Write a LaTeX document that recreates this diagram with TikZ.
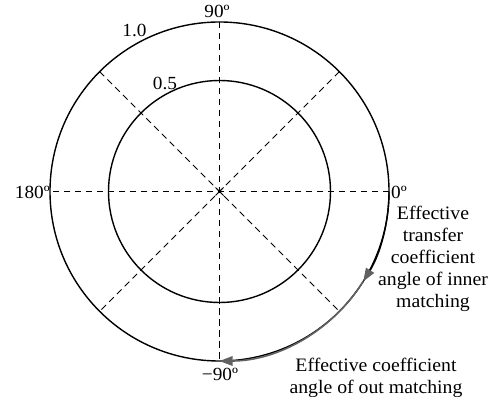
\documentclass[tikz,border=0pt]{standalone}
\usepackage{fontspec}
\setmainfont{Liberation Serif}[FakeStretch=1.04]
\usetikzlibrary{arrows.meta,calc}
\colorlet{arrgray}{black!62}
\begin{document}
\begin{tikzpicture}[x=1pt,y=1pt,
  ring/.style={line width=1.4pt,black},
  guide/.style={line width=1pt,dash pattern=on 6.5pt off 4.5pt},
  tipg/.tip={Triangle[length=13pt,width=9.5pt,color=arrgray,fill=arrgray]},
  lbl/.style={font=\fontsize{18.5}{22}\selectfont,inner sep=0pt},
  note/.style={lbl,align=center,font=\fontsize{19}{22}\selectfont}]
\useasboundingbox (0,0) rectangle (497,396);
\coordinate (O) at (219.5,204.5);
% circles
\draw[ring] (O) circle[radius=169.5];
\draw[ring] (O) circle[radius=111];
% guide lines
\foreach \a in {0,45,90,135}{
  \draw[guide] ($(O)+(\a:169.5)$) -- ($(O)+(\a+180:169.5)$);
}
\draw[line width=1pt] ($(O)+(-4,-4)$) -- ($(O)+(4,4)$) ($(O)+(-4,4)$) -- ($(O)+(4,-4)$);
% arcs with arrows
\coordinate (A0) at ($(O)+(0:169.5)$);
\coordinate (A1) at ($(O)+(-32:169.5)$);
\coordinate (A2) at ($(O)+(-90:169.5)$);
\draw[ring,-tipg] (A0) arc[start angle=0,end angle=-32,radius=169.5];
\draw[line width=1.6pt,arrgray,-tipg] (A1) arc[start angle=-32,end angle=-90,radius=169.5];
% labels
\node[lbl,anchor=base] (l10) at (134.5,359) {1.0};
\node[lbl,anchor=base] (l05) at (165,306) {0.5};
\node[lbl,anchor=base] (l90) at (217,378) {90º};
\node[lbl,anchor=base] (lm90) at (220,16) {−90º};
\node[lbl,anchor=east] (l180) at (50,204) {180º};
\node[lbl,anchor=west] (l0) at (391,204) {0º};
\node[note,anchor=north] (inner) at (433,190) {Effective\\transfer\\coefficient\\angle of inner\\matching};
\node[note,anchor=north] (outer) at (376,38.5) {Effective coefficient\\angle of out matching};
\end{tikzpicture}
\end{document}
